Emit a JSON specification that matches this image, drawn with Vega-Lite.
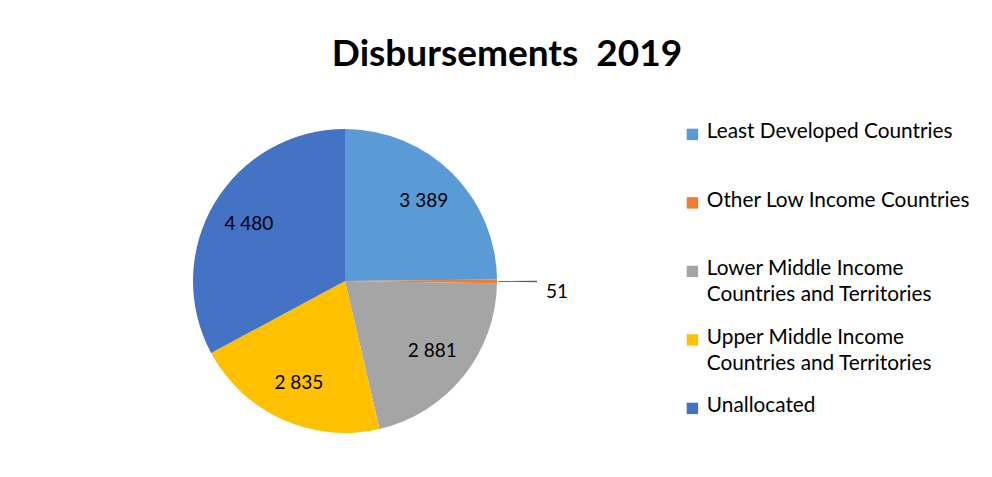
{
  "$schema": "https://vega.github.io/schema/vega-lite/v6.json",
  "autosize": "none",
  "width": 304,
  "height": 304,
  "padding": {"left": 193, "top": 129, "right": 495, "bottom": 44},
  "background": "white",
  "config": {
    "view": {"stroke": null},
    "locale": {"number": {"decimal": ".", "thousands": " ", "grouping": [3], "currency": ["", ""]}}
  },
  "title": {
    "text": "Disbursements\u00a0 2019",
    "font": "Lato",
    "fontSize": 37,
    "fontWeight": "bold",
    "color": "#000000",
    "anchor": "middle",
    "frame": "group",
    "dx": 162,
    "offset": 15
  },
  "data": {
    "values": [
      {"id": 1, "category": "Least Developed Countries", "value": 3389},
      {"id": 2, "category": "Other Low Income Countries", "value": 51},
      {"id": 3, "category": "Lower Middle Income Countries and Territories", "value": 2881},
      {"id": 4, "category": "Upper Middle Income Countries and Territories", "value": 2835},
      {"id": 5, "category": "Unallocated", "value": 4480}
    ]
  },
  "encoding": {
    "theta": {"field": "value", "type": "quantitative", "stack": true},
    "order": {"field": "id", "type": "quantitative"}
  },
  "layer": [
    {
      "mark": {"type": "arc", "radius": 152},
      "encoding": {
        "color": {
          "field": "category",
          "type": "nominal",
          "scale": {
            "domain": ["Least Developed Countries", "Other Low Income Countries", "Lower Middle Income Countries and Territories", "Upper Middle Income Countries and Territories", "Unallocated"],
            "range": ["#5B9BD5", "#ED7D31", "#A5A5A5", "#FFC000", "#4472C4"]
          },
          "legend": {
            "title": null,
            "orient": "none",
            "legendX": 489,
            "legendY": -5,
            "symbolType": "square",
            "symbolSize": 130,
            "symbolStrokeWidth": 0,
            "labelFont": "Lato",
            "labelFontSize": 20.8,
            "labelColor": "#000000",
            "labelOffset": 4,
            "labelLimit": 400,
            "labelBaseline": "top",
            "rowPadding": 20.5,
            "gridAlign": "all",
            "labelExpr": "indexof(datum.label, ' Countries and') > 0 ? [substring(datum.label, 0, indexof(datum.label, ' Countries and')), 'Countries and Territories'] : datum.label",
            "encode": {
              "labels": {"update": {"lineHeight": {"value": 26}, "dy": {"value": -12}}}
            }
          }
        }
      }
    },
    {
      "mark": {"type": "arc", "radius": 153, "radius2": 192, "padAngle": 0.012, "fill": "#595959"},
      "encoding": {
        "fillOpacity": {"condition": {"test": "datum.value < 100", "value": 1}, "value": 0}
      }
    },
    {
      "mark": {"type": "text", "radius": 112, "font": "Lato", "fontSize": 19, "color": "#000000"},
      "encoding": {
        "text": {"condition": {"test": "datum.value >= 100", "field": "value", "type": "quantitative", "format": ",d"}, "value": ""}
      }
    },
    {
      "mark": {"type": "text", "radius": 212, "dy": 10, "font": "Lato", "fontSize": 19, "color": "#000000"},
      "encoding": {
        "text": {"condition": {"test": "datum.value < 100", "field": "value", "type": "quantitative", "format": "d"}, "value": ""}
      }
    }
  ]
}
